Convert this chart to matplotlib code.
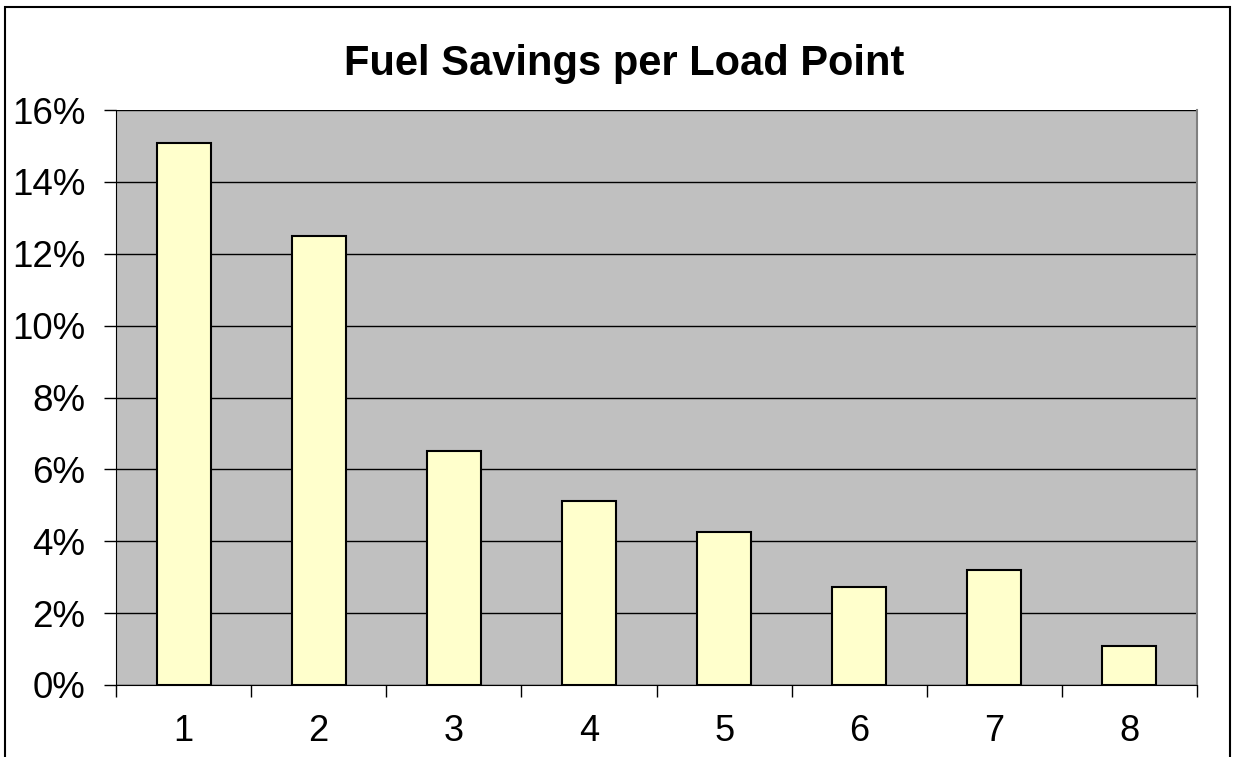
import matplotlib
matplotlib.use("Agg")
import matplotlib.pyplot as plt
from matplotlib.ticker import FuncFormatter, MultipleLocator
from matplotlib.patches import Rectangle

categories = ["1", "2", "3", "4", "5", "6", "7", "8"]
savings = [15.08, 12.49, 6.51, 5.12, 4.26, 2.72, 3.20, 1.08]

plt.rcParams['font.family'] = ['Liberation Sans', 'DejaVu Sans']

W, H = 1233, 757
fig = plt.figure(figsize=(W/100, H/100), dpi=100)
ax = fig.add_axes([116/W, 1-685/H, (1197-116)/W, (685-110)/H])
ax.set_facecolor('#c0c0c0')

x = list(range(len(categories)))
ax.bar(x, savings, width=0.40, color='#ffffcc', edgecolor='black', linewidth=1.5, zorder=3)

ax.set_xlim(-0.5, len(categories) - 0.5)
ax.set_ylim(0, 16)
ax.yaxis.set_major_locator(MultipleLocator(2))
ax.yaxis.set_major_formatter(FuncFormatter(lambda v, p: f"{int(round(v))}%"))
ax.grid(axis='y', color='black', linewidth=1, zorder=1)
ax.set_axisbelow(True)

ax.set_xticks(x)
ax.set_xticklabels(categories)
ax.set_xticks([i - 0.5 for i in range(len(categories) + 1)], minor=True)
ax.tick_params(axis='x', which='major', length=0, pad=21, labelsize=26)
ax.tick_params(axis='x', which='minor', length=8.6, width=1, direction='out')
ax.tick_params(axis='y', length=8.6, width=1, direction='out', labelsize=26.5, pad=13.5)

ax.spines['top'].set_visible(False)
ax.spines['right'].set_color('#808080')
ax.spines['right'].set_linewidth(1.5)
ax.spines['left'].set_color('black')
ax.spines['bottom'].set_color('black')

fig.text(624/W, 1-64/H, "Fuel Savings per Load Point", ha='center', va='center',
         fontsize=30, fontweight='bold')

# outer frame
fig.patches.append(Rectangle((5/W, -0.01), (1230-5)/W, 1-7/H+0.01, transform=fig.transFigure,
                             fill=False, edgecolor='black', linewidth=1.5))

fig.savefig("out.png", dpi=100)
